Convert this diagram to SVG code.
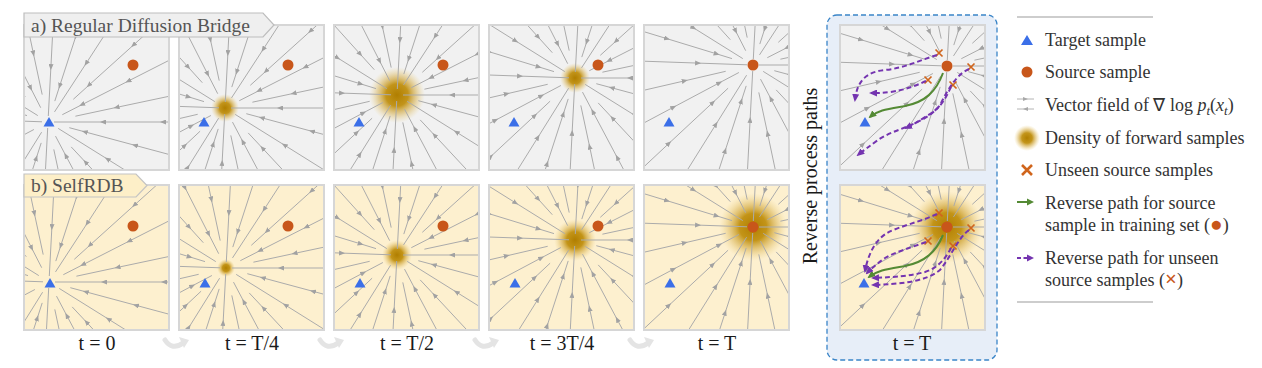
<svg xmlns="http://www.w3.org/2000/svg" xmlns:xlink="http://www.w3.org/1999/xlink" width="1262" height="368" viewBox="0 0 1262 368">
<style>
.pa{fill:#f1f1f1}
.pb{fill:#fdf0cf}
.bd{fill:none;stroke:#d6d6d6;stroke-width:2}
.lbl{font-family:"Liberation Serif",serif;fill:#1a1a1a;font-size:20px}
.lg{font-family:"Liberation Serif",serif;fill:#333;font-size:18px}
.tag{font-family:"Liberation Serif",serif;fill:#555;font-size:19.5px}
.tri{fill:#3b6fe8}
.src{fill:#c8561a}
.x{stroke:#d0651c;stroke-width:1.7;fill:none}
.gp{fill:none;stroke:#548a34;stroke-width:2}
.pp{fill:none;stroke:#7434b0;stroke-width:2;stroke-dasharray:5 3}
.ca{fill:none;stroke:#e4e4e4;stroke-width:5;stroke-linecap:round}
</style>
<defs>
<marker id="ar" viewBox="0 0 6 5" refX="3" refY="2.5" markerWidth="6" markerHeight="5" markerUnits="userSpaceOnUse" orient="auto">
<path d="M0,0 L6,2.5 L0,5 Z" fill="#a2a2a2"/>
</marker>
<marker id="ag" viewBox="0 0 8 7" refX="6" refY="3.5" markerWidth="8" markerHeight="7" markerUnits="userSpaceOnUse" orient="auto">
<path d="M0,0 L8,3.5 L0,7 Z" fill="#548a34"/>
</marker>
<marker id="ap" viewBox="0 0 8 7" refX="6" refY="3.5" markerWidth="8" markerHeight="7" markerUnits="userSpaceOnUse" orient="auto">
<path d="M0,0 L8,3.5 L0,7 Z" fill="#7434b0"/>
</marker>
<radialGradient id="dg">
<stop offset="0" stop-color="#b07e00"/>
<stop offset="0.4" stop-color="#be8c08" stop-opacity="0.92"/>
<stop offset="0.7" stop-color="#d6ae48" stop-opacity="0.5"/>
<stop offset="1" stop-color="#ecd080" stop-opacity="0"/>
</radialGradient>
<clipPath id="pc"><rect x="0" y="0" width="145" height="145"/></clipPath>
<path id="tri" class="tri" d="M-5.5,4.5 L5.5,4.5 L0,-5 Z"/>
<circle id="src" class="src" r="5.5"/>
<path id="xm" class="x" d="M-3.5,-3.5 L3.5,3.5 M-3.5,3.5 L3.5,-3.5"/>
<g id="rays" fill="none" stroke="#ababab" stroke-width="1" marker-mid="url(#ar)">
<polyline points="230,0 175,0 115,0 55,0 6,0"/>
<polyline points="222.2,59.6 144.9,38.9 86.9,23.3 36.7,9.8 21.3,5.7"/>
<polyline points="195,121.9 161.1,100.7 110.2,68.9 59.4,37.1 10.2,6.4"/>
<polyline points="156.9,168.1 119.4,127.9 78.4,84.1 37.5,40.2 23.2,24.9"/>
<polyline points="107.9,203.1 70.4,132.5 42.2,79.5 17.8,33.6 7.5,14.1"/>
<polyline points="47.8,224.9 39.5,185.8 27,127.1 14.6,68.5 5.8,27.4"/>
<polyline points="-12,229.8 -9.1,174.8 -6,114.9 -2.9,54.9 -0.3,6"/>
<polyline points="-71.1,218.7 -46.4,142.7 -27.8,85.6 -11.7,36.1 -6.8,20.9"/>
<polyline points="-121.9,195 -100.7,161.1 -68.9,110.2 -37.1,59.4 -6.4,10.2"/>
<polyline points="-168.1,156.9 -127.9,119.4 -84.1,78.4 -40.2,37.5 -24.9,23.2"/>
<polyline points="-203.1,107.9 -132.5,70.4 -79.5,42.2 -33.6,17.8 -14.1,7.5"/>
<polyline points="-224,51.8 -185.1,42.8 -126.6,29.3 -68.2,15.8 -27.3,6.3"/>
<polyline points="-229.8,-8.1 -174.8,-6.1 -114.9,-4 -54.9,-1.9 -6,-0.2"/>
<polyline points="-219.9,-67.2 -143.4,-43.8 -86,-26.3 -36.3,-11.1 -21,-6.4"/>
<polyline points="-195,-121.9 -161.1,-100.7 -110.2,-68.9 -59.4,-37.1 -10.2,-6.4"/>
<polyline points="-153.9,-170.9 -117.1,-130 -76.9,-85.4 -36.8,-40.9 -22.7,-25.3"/>
<polyline points="-104.4,-204.9 -68.1,-133.7 -40.9,-80.2 -17.3,-33.9 -7.3,-14.3"/>
<polyline points="-47.8,-224.9 -39.5,-185.8 -27,-127.1 -14.6,-68.5 -5.8,-27.4"/>
<polyline points="12,-229.8 9.1,-174.8 6,-114.9 2.9,-54.9 0.3,-6"/>
<polyline points="71.1,-218.7 46.4,-142.7 27.8,-85.6 11.7,-36.1 6.8,-20.9"/>
<polyline points="125.4,-193 103.6,-159.4 70.9,-109.1 38.2,-58.7 6.5,-10.1"/>
<polyline points="170.9,-153.9 130,-117.1 85.4,-76.9 40.9,-36.8 25.3,-22.7"/>
<polyline points="204.9,-104.4 133.7,-68.1 80.2,-40.9 33.9,-17.3 14.3,-7.3"/>
<polyline points="224.9,-47.8 185.8,-39.5 127.1,-27 68.5,-14.6 27.4,-5.8"/>
</g>
</defs>
<rect width="1262" height="368" fill="#ffffff"/>

<!-- Right highlight box -->
<rect id="rev-box" x="827" y="15" width="170" height="345" rx="10" fill="#e7eef8" stroke="#3a85c8" stroke-width="1.3" stroke-dasharray="5 3"/>
<text class="lbl" transform="translate(817,176) rotate(-90)" text-anchor="middle" fill="#444">Reverse process paths</text>

<!-- Row a -->
<g id="a-t0" transform="translate(24,25)">
<rect class="pa" width="145" height="145"/>
<g clip-path="url(#pc)"><use href="#rays" transform="translate(24,97)"/></g>
<use href="#src" x="109" y="40"/><use href="#tri" x="25" y="97"/>
<rect class="bd" width="145" height="145"/>
</g>
<g id="a-t1" transform="translate(179,25)">
<rect class="pa" width="145" height="145"/>
<circle cx="46" cy="83" r="14" fill="url(#dg)"/>
<g clip-path="url(#pc)"><use href="#rays" transform="translate(46,83)"/></g>
<use href="#src" x="109" y="40"/><use href="#tri" x="25" y="97"/>
<rect class="bd" width="145" height="145"/>
</g>
<g id="a-t2" transform="translate(334,25)">
<rect class="pa" width="145" height="145"/>
<circle cx="63" cy="70" r="28" fill="url(#dg)"/>
<g clip-path="url(#pc)"><use href="#rays" transform="translate(63,70)"/></g>
<use href="#src" x="109" y="40"/><use href="#tri" x="25" y="97"/>
<rect class="bd" width="145" height="145"/>
</g>
<g id="a-t3" transform="translate(489,25)">
<rect class="pa" width="145" height="145"/>
<circle cx="86" cy="53" r="15" fill="url(#dg)"/>
<g clip-path="url(#pc)"><use href="#rays" transform="translate(86,53)"/></g>
<use href="#src" x="109" y="40"/><use href="#tri" x="25" y="97"/>
<rect class="bd" width="145" height="145"/>
</g>
<g id="a-t4" transform="translate(644,25)">
<rect class="pa" width="145" height="145"/>
<g clip-path="url(#pc)"><use href="#rays" transform="translate(109,40)"/></g>
<use href="#src" x="109" y="40"/><use href="#tri" x="25" y="97"/>
<rect class="bd" width="145" height="145"/>
</g>

<!-- Row b -->
<g id="b-t0" transform="translate(24,185)">
<rect class="pb" width="145" height="145"/>
<g clip-path="url(#pc)"><use href="#rays" transform="translate(25,97)"/></g>
<use href="#src" x="109" y="41"/><use href="#tri" x="26" y="98"/>
<rect class="bd" width="145" height="145"/>
</g>
<g id="b-t1" transform="translate(179,185)">
<rect class="pb" width="145" height="145"/>
<circle cx="47" cy="83" r="9" fill="url(#dg)"/>
<g clip-path="url(#pc)"><use href="#rays" transform="translate(47,83)"/></g>
<use href="#src" x="109" y="41"/><use href="#tri" x="26" y="98"/>
<rect class="bd" width="145" height="145"/>
</g>
<g id="b-t2" transform="translate(334,185)">
<rect class="pb" width="145" height="145"/>
<circle cx="63" cy="70" r="15" fill="url(#dg)"/>
<g clip-path="url(#pc)"><use href="#rays" transform="translate(63,70)"/></g>
<use href="#src" x="109" y="41"/><use href="#tri" x="26" y="98"/>
<rect class="bd" width="145" height="145"/>
</g>
<g id="b-t3" transform="translate(489,185)">
<rect class="pb" width="145" height="145"/>
<circle cx="86" cy="55" r="21" fill="url(#dg)"/>
<g clip-path="url(#pc)"><use href="#rays" transform="translate(86,55)"/></g>
<use href="#src" x="109" y="41"/><use href="#tri" x="26" y="98"/>
<rect class="bd" width="145" height="145"/>
</g>
<g id="b-t4" transform="translate(644,185)">
<rect class="pb" width="145" height="145"/>
<g clip-path="url(#pc)"><circle cx="109" cy="42" r="34" fill="url(#dg)"/><use href="#rays" transform="translate(109,42)"/></g>
<use href="#src" x="109" y="42"/><use href="#tri" x="26" y="98"/>
<rect class="bd" width="145" height="145"/>
</g>

<!-- Right panels -->
<g id="r-a" transform="translate(840,25)">
<rect class="pa" width="145" height="145"/>
<g clip-path="url(#pc)"><use href="#rays" transform="translate(107,41)"/></g>
<use href="#src" x="107" y="41"/><use href="#tri" x="25" y="97"/>
<use href="#xm" x="99" y="28"/><use href="#xm" x="131" y="42"/><use href="#xm" x="88" y="55"/><use href="#xm" x="113" y="60"/>
<rect class="bd" width="145" height="145"/>
</g>
<g id="r-b" transform="translate(840,185)">
<rect class="pb" width="145" height="145"/>
<g clip-path="url(#pc)"><circle cx="107" cy="42" r="36" fill="url(#dg)"/><use href="#rays" transform="translate(107,42)"/></g>
<use href="#src" x="107" y="42"/><use href="#tri" x="24" y="98"/>
<use href="#xm" x="99" y="28"/><use href="#xm" x="131" y="43"/><use href="#xm" x="88" y="56"/><use href="#xm" x="113" y="61"/>
<rect class="bd" width="145" height="145"/>
</g>

<!-- Paths -->
<g id="paths">
<path class="gp" marker-end="url(#ag)" d="M943,73 C936,92 925,102 905,106 C888,109 878,110 870,117"/>
<path class="pp" marker-end="url(#ap)" d="M937,55 C920,60 905,68 885,70 C865,72 857,82 855,100"/>
<path class="pp" marker-end="url(#ap)" d="M926,81 C915,86 905,90 890,92 C882,93 878,93 871,93"/>
<path class="pp" marker-end="url(#ap)" d="M951,87 C946,97 942,108 925,117 C918,122 912,125 906,128"/>
<path class="pp" marker-end="url(#ap)" d="M969,69 C958,74 950,85 940,105 C925,125 895,128 878,140 C870,146 864,150 858,155"/>

<path class="gp" marker-end="url(#ag)" d="M943,235 C936,252 925,262 905,266 C888,269 878,270 869,277"/>
<path class="pp" marker-end="url(#ap)" d="M937,214 C920,222 900,226 887,233 C875,240 868,255 865,271"/>
<path class="pp" marker-end="url(#ap)" d="M926,242 C910,248 895,252 885,258 C878,263 872,268 867,273"/>
<path class="pp" marker-end="url(#ap)" d="M951,248 C946,258 938,268 925,272 C910,276 895,277 873,278"/>
<path class="pp" marker-end="url(#ap)" d="M969,230 C958,238 952,255 940,270 C925,282 900,284 873,285"/>
</g>

<!-- Tags -->
<g id="tag-a">
<path d="M24,13 H263 L274,25 L263,37 H24 Z" fill="#efefef" stroke="#bdbdbd" stroke-width="1.2"/>
<text class="tag" x="31" y="32">a) Regular Diffusion Bridge</text>
</g>
<g id="tag-b">
<path d="M24,174 H136 L147,185.5 L136,197 H24 Z" fill="#fdefc8" stroke="#c4c4c4" stroke-width="1.2"/>
<text class="tag" x="31" y="192">b) SelfRDB</text>
</g>

<!-- Time labels -->
<g id="time-labels">
<text class="lbl" x="97" y="350" text-anchor="middle">t = 0</text>
<text class="lbl" x="252" y="350" text-anchor="middle">t = T/4</text>
<text class="lbl" x="407" y="350" text-anchor="middle">t = T/2</text>
<text class="lbl" x="562" y="350" text-anchor="middle">t = 3T/4</text>
<text class="lbl" x="717" y="350" text-anchor="middle">t = T</text>
<text class="lbl" x="912" y="350" text-anchor="middle">t = T</text>
</g>
<g id="step-arrows">
<path class="ca" d="M165,340 Q172,351 183,343"/><path d="M179,337 L189,340 L184,348 Z" fill="#e4e4e4"/>
<path class="ca" d="M320,340 Q327,351 338,343"/><path d="M334,337 L344,340 L339,348 Z" fill="#e4e4e4"/>
<path class="ca" d="M475,340 Q482,351 493,343"/><path d="M489,337 L499,340 L494,348 Z" fill="#e4e4e4"/>
<path class="ca" d="M630,340 Q637,351 648,343"/><path d="M644,337 L654,340 L649,348 Z" fill="#e4e4e4"/>
</g>

<!-- Legend -->
<g id="legend">
<line x1="1017" y1="17" x2="1153" y2="17" stroke="#bcbcbc" stroke-width="1.3"/>
<path class="tri" d="M1021,45 L1033,45 L1027,35 Z"/>
<text class="lg" x="1045" y="46">Target sample</text>
<circle class="src" cx="1027" cy="72" r="5.5"/>
<text class="lg" x="1045" y="78">Source sample</text>
<line x1="1017" y1="99" x2="1034" y2="99" stroke="#b4b4b4" stroke-width="1"/>
<line x1="1017" y1="109" x2="1034" y2="109" stroke="#b4b4b4" stroke-width="1"/>
<path d="M1023,97 L1028,99 L1023,101 Z M1028,107 L1023,109 L1028,111 Z" fill="#a8a8a8"/>
<text class="lg" x="1045" y="111">Vector field of ∇ log <tspan font-style="italic">p</tspan><tspan font-style="italic" font-size="13" dy="4">t</tspan><tspan dy="-4">(</tspan><tspan font-style="italic">x</tspan><tspan font-style="italic" font-size="13" dy="4">t</tspan><tspan dy="-4">)</tspan></text>
<circle cx="1027" cy="138" r="13" fill="url(#dg)"/>
<text class="lg" x="1045" y="144">Density of forward samples</text>
<path d="M1022,165 L1032,175 M1022,175 L1032,165" stroke="#d0651c" stroke-width="2.6"/>
<text class="lg" x="1045" y="176">Unseen source samples</text>
<line x1="1017" y1="202" x2="1028" y2="202" stroke="#548a34" stroke-width="2"/>
<path d="M1027,198.5 L1034,202 L1027,205.5 Z" fill="#548a34"/>
<text class="lg" x="1045" y="209">Reverse path for source</text>
<text class="lg" x="1045" y="231">sample in training set (<tspan fill="#c8561a" font-size="21">●</tspan>)</text>
<line x1="1017" y1="258" x2="1028" y2="258" stroke="#7434b0" stroke-width="2" stroke-dasharray="4 2.5"/>
<path d="M1027,254.5 L1034,258 L1027,261.5 Z" fill="#7434b0"/>
<text class="lg" x="1045" y="264">Reverse path for unseen</text>
<text class="lg" x="1045" y="286">source samples (<tspan fill="#c8561a" font-weight="bold" font-size="21">×</tspan>)</text>
<line x1="1017" y1="302" x2="1153" y2="302" stroke="#bcbcbc" stroke-width="1.3"/>
</g>
</svg>
